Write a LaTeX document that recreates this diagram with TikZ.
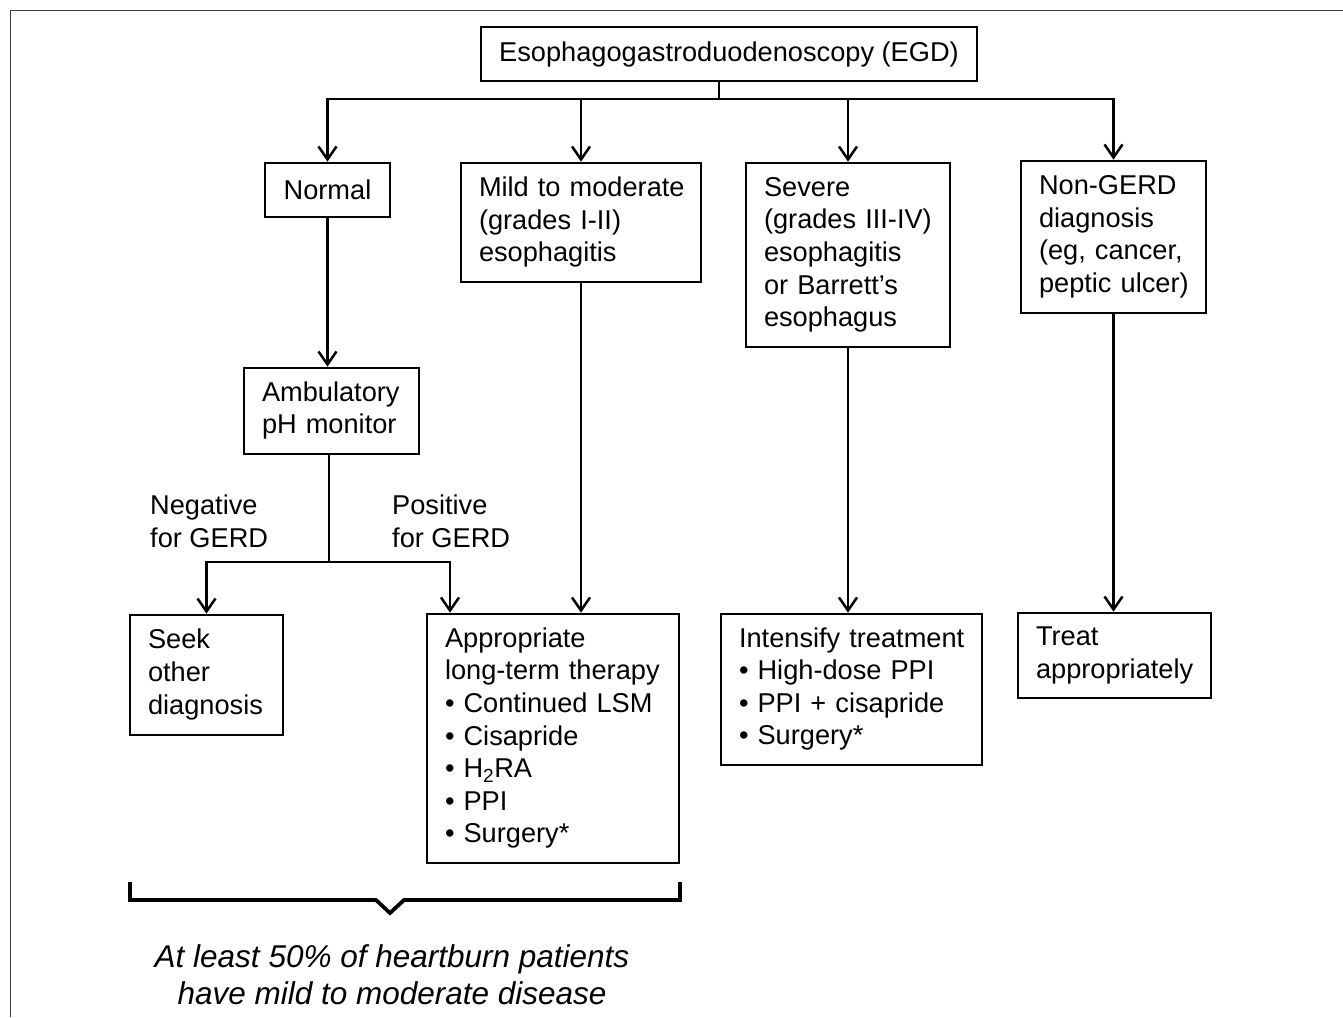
\documentclass[tikz,border=0pt]{standalone}
\usepackage{fontspec}
\setmainfont{Liberation Sans}
\usetikzlibrary{arrows.meta}
\newcommand{\boxlines}[1]{\begin{tabular}{@{}l@{}}#1\end{tabular}}
\tikzset{
  box/.style={draw=black, line width=2.7pt, rectangle, inner xsep=18pt, inner ysep=0pt,
    font=\fontsize{27.2}{32.6}\selectfont, align=left},
  conn/.style={draw=black, line width=2.5pt},
  arr/.style={conn, -{Straight Barb[length=13pt,width=18pt,line width=2.5pt]}},
  lbl/.style={font=\fontsize{27.2}{32.6}\selectfont, align=left, inner sep=0pt},
  note/.style={font=\fontsize{31.5}{37}\selectfont\itshape, align=center, inner sep=0pt},
  frame/.style={draw=black!75, line width=1.8pt}
}
\begin{document}
\begin{tikzpicture}[x=1pt,y=-1pt]
\useasboundingbox (0,0) rectangle (1343,1017);
\draw[frame] (10.5,1017) -- (10.5,10.5) -- (1343,10.5);

\node[box, align=center, minimum width=496pt, minimum height=54pt, inner xsep=0pt] (egd) at (729,54) {Esophagogastroduodenoscopy (EGD)};
\node[box, align=center, minimum width=125pt, minimum height=54pt, inner xsep=0pt] (normal) at (327.5,190) {Normal};
\node[box, text width=204pt, minimum height=119pt] (mild) at (581,222.5) {\boxlines{Mild to moderate\\(grades I-II)\\esophagitis}};
\node[box, text width=168pt, minimum height=184pt] (severe) at (848,255) {\boxlines{Severe\\(grades III-IV)\\esophagitis\\or Barrett’s\\esophagus}};
\node[box, text width=149pt, minimum height=152pt] (nongerd) at (1113.5,237) {\boxlines{Non-GERD\\diagnosis\\(eg, cancer,\\peptic ulcer)}};
\node[box, text width=139pt, minimum height=86pt] (amb) at (331.5,411) {\boxlines{Ambulatory\\pH monitor}};
\node[box, text width=117pt, minimum height=120pt] (seek) at (206.5,675) {\boxlines{Seek\\other\\diagnosis}};
\node[box, text width=216pt, minimum height=249pt] (app) at (553,738.5) {\boxlines{Appropriate\\long-term therapy\\• Continued LSM\\• Cisapride\\• H\textsubscript{2}RA\\• PPI\\• Surgery*}};
\node[box, text width=225pt, minimum height=151pt] (int) at (851.5,689.5) {\boxlines{Intensify treatment\\• High-dose PPI\\• PPI + cisapride\\• Surgery*}};
\node[box, text width=157pt, minimum height=85pt] (treat) at (1114.5,655.5) {\boxlines{Treat\\appropriately}};

\node[lbl, anchor=west] (neg) at (150,521) {Negative\\for GERD};
\node[lbl, anchor=west] (pos) at (392,521) {Positive\\for GERD};

\coordinate (j) at (719,99);
\draw[conn] (egd.south -| j) -- (j);
\draw[arr] (j) -| (normal.north);
\draw[arr] (j) -| (mild.north);
\draw[arr] (j) -| (severe.north);
\draw[arr] (j) -| (nongerd.north);

\draw[arr] (normal.south) -- (normal.south |- amb.north);
\coordinate (k) at (329,562);
\draw[conn] (amb.south -| k) -- (k);
\draw[arr] (k) -| (seek.north);
\draw[arr] (k) -| ([xshift=-103pt]app.north);
\draw[arr] (mild.south) -- (mild.south |- app.north);
\draw[arr] (severe.south) -- (severe.south |- int.north);
\draw[arr] (nongerd.south) -- (nongerd.south |- treat.north);

\draw[line width=3.8pt, line join=miter] (130,882) -- (130,900) -- (376,900) -- (390,913) -- (404,900) -- (680,900) -- (680,882);
\node[note] (n1) at (392,975) {At least 50\% of heartburn patients\\have mild to moderate disease};
\end{tikzpicture}
\end{document}
